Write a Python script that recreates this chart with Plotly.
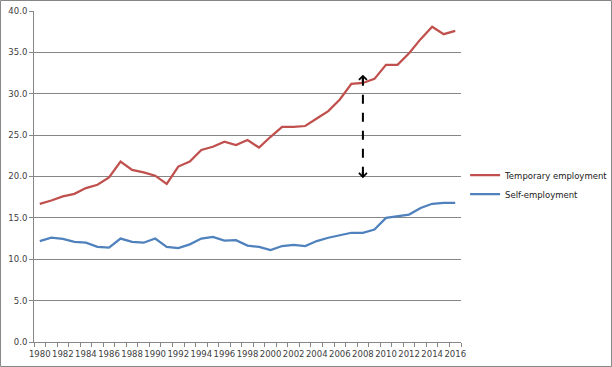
import plotly.graph_objects as go

years = list(range(1980, 2017))
temporary = [16.7, 17.1, 17.6, 17.9, 18.6, 19.0, 19.9, 21.8, 20.8, 20.5,
             20.1, 19.1, 21.2, 21.8, 23.2, 23.6, 24.2, 23.8, 24.4, 23.5,
             24.8, 26.0, 26.0, 26.1, 27.0, 27.9, 29.3, 31.2, 31.3, 31.8,
             33.5, 33.5, 34.9, 36.6, 38.1, 37.2, 37.6]
self_emp = [12.2, 12.6, 12.45, 12.1, 12.0, 11.5, 11.4, 12.5, 12.1, 12.0,
            12.5, 11.5, 11.35, 11.8, 12.5, 12.7, 12.25, 12.3, 11.65, 11.5,
            11.1, 11.6, 11.75, 11.6, 12.2, 12.6, 12.9, 13.2, 13.2, 13.6,
            15.0, 15.2, 15.4, 16.2, 16.7, 16.8, 16.8]
y_ticks = [0, 5, 10, 15, 20, 25, 30, 35, 40]
y_tick_labels = ["0.0", "5.0", "10.0", "15.0", "20.0", "25.0", "30.0", "35.0", "40.0"]
x_labels = list(range(1980, 2017, 2))
gap_year = 2008
gap_top = 32.3
gap_bottom = 19.8

fig = go.Figure()
fig.add_trace(go.Scatter(x=years, y=temporary, mode="lines", name="Temporary employment",
                         line=dict(color="#C0504D", width=2.25)))
fig.add_trace(go.Scatter(x=years, y=self_emp, mode="lines", name="Self-employment",
                         line=dict(color="#4F81BD", width=2.25)))

# dashed gap arrow
fig.add_shape(type="line", xref="x", yref="y", x0=gap_year, x1=gap_year,
              y0=gap_bottom + 0.3, y1=gap_top - 0.3,
              line=dict(color="black", width=2, dash="dash"))
for tip, off in [(gap_top, 8), (gap_bottom, -8)]:
    fig.add_annotation(x=gap_year, y=tip, ax=0, ay=off, xref="x", yref="y",
                       text="", showarrow=True, arrowhead=4, arrowsize=0.7,
                       arrowwidth=2.2, arrowcolor="black")

# outer chart border
fig.add_shape(type="rect", xref="paper", yref="paper",
              x0=-0.0785, x1=1.3525, y0=-0.074, y1=1.0317,
              line=dict(color="#868686", width=1), fillcolor="rgba(0,0,0,0)")

font = dict(family="DejaVu Sans", size=8.5, color="#404040")
fig.update_layout(
    width=612, height=367,
    margin=dict(l=34, r=151, t=11, b=25, autoexpand=False),
    paper_bgcolor="white", plot_bgcolor="white",
    font=font,
    showlegend=True,
    legend=dict(xref="container", yref="container", x=0.76, y=0.562,
                xanchor="left", yanchor="top",
                font=dict(family="DejaVu Sans", size=8.5, color="#202020"),
                itemwidth=30, tracegroupgap=0, bgcolor="rgba(0,0,0,0)"),
    xaxis=dict(range=[1979.5, 2016.5], tickmode="array", tickvals=x_labels,
               ticktext=[str(v) for v in x_labels], ticks="", showgrid=False,
               tickangle=0, automargin=False, ticklabelstandoff=4,
               showline=True, linecolor="#868686", linewidth=1, zeroline=False,
               minor=dict(tick0=1979.5, dtick=1, ticks="outside", ticklen=4,
                          tickcolor="#868686", showgrid=False),
               tickfont=font),
    yaxis=dict(range=[0, 40], tickmode="array", tickvals=y_ticks, ticktext=y_tick_labels,
               ticks="outside", ticklen=4, tickcolor="#868686", automargin=False,
               showgrid=True, gridcolor="#868686", gridwidth=1,
               showline=True, linecolor="#868686", linewidth=1, zeroline=False,
               tickfont=font),
)

fig.write_html("out.html", config={"displayModeBar": False},
               post_script="document.body.style.margin='0px';")
